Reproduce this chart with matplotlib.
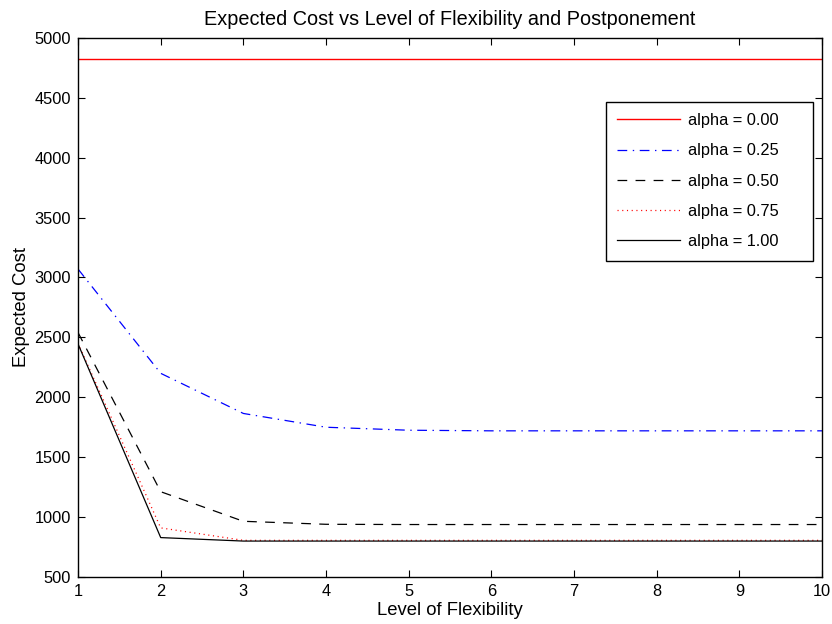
import numpy as np
import matplotlib
matplotlib.use("Agg")
import matplotlib.pyplot as plt

plt.rcParams['font.family'] = ['Liberation Sans', 'DejaVu Sans']
plt.rcParams['lines.scale_dashes'] = False

# Level of flexibility (x axis)
levels = [1, 2, 3, 4, 5, 6, 7, 8, 9, 10]

# Expected cost for each postponement level (alpha)
cost_a000 = [4820, 4820, 4820, 4820, 4820, 4820, 4820, 4820, 4820, 4820]
cost_a025 = [3070, 2200, 1865, 1750, 1725, 1720, 1720, 1720, 1720, 1720]
cost_a050 = [2540, 1212, 965, 940, 938, 938, 938, 938, 938, 938]
cost_a075 = [2450, 910, 806, 806, 806, 806, 806, 806, 806, 806]
cost_a100 = [2445, 829, 800, 800, 800, 800, 800, 800, 800, 800]

series_labels = ["alpha = 0.00", "alpha = 0.25", "alpha = 0.50",
                 "alpha = 0.75", "alpha = 1.00"]

fig = plt.figure(figsize=(8.32, 6.24), dpi=100)
ax = fig.add_axes([0.0938, 0.0753, 0.8942, 0.8641])

lw = 0.9
ax.plot(levels, cost_a000, color='red', linestyle='-', linewidth=1.0,
        label=series_labels[0])
ax.plot(levels, cost_a025, color='blue', linewidth=lw,
        dashes=(7, 4, 1, 4), label=series_labels[1])
ax.plot(levels, cost_a050, color='black', linewidth=lw,
        dashes=(7, 6), label=series_labels[2])
ax.plot(levels, cost_a075, color='red', linewidth=lw,
        dashes=(0.8, 2.6), label=series_labels[3])
ax.plot(levels, cost_a100, color='black', linestyle='-', linewidth=lw,
        label=series_labels[4])

ax.set_xlim(1, 10)
ax.set_ylim(500, 5000)
ax.set_xticks(np.arange(1, 11, 1))
ax.set_yticks(np.arange(500, 5001, 500))

ax.tick_params(direction='in', length=5, width=0.8, top=True, right=True,
               labelsize=11.8, pad=5)
for s in ax.spines.values():
    s.set_linewidth(1.0)

ax.set_title("Expected Cost vs Level of Flexibility and Postponement",
             fontsize=14.3, pad=9.5)
ax.set_xlabel("Level of Flexibility", fontsize=13.3, labelpad=2)
ax.set_ylabel("Expected Cost", fontsize=13.3, labelpad=3)

leg = ax.legend(loc='upper left', bbox_to_anchor=(0.7095, 0.5, 0.2785, 0.3817),
                mode='expand', fontsize=11.8, fancybox=False, framealpha=1,
                edgecolor='black', handlelength=3.85, borderpad=0.7,
                labelspacing=0.93, handletextpad=0.45, borderaxespad=0)
leg.get_frame().set_linewidth(1.0)

fig.savefig("out.png", dpi=100)
